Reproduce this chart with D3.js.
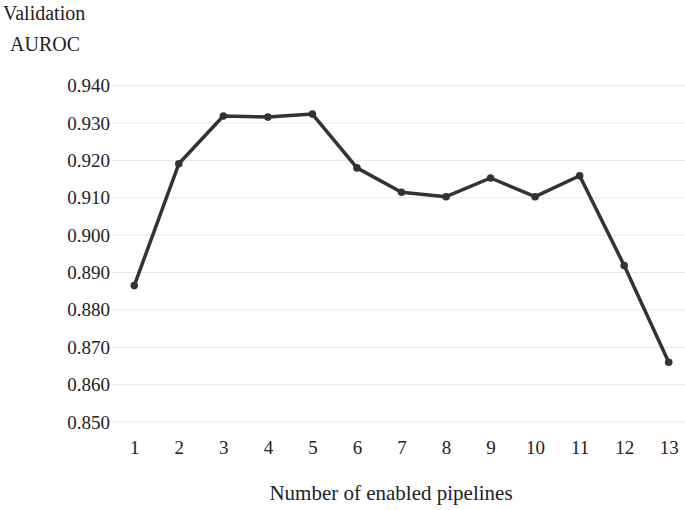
<!DOCTYPE html>
<html lang="en">
<head>
<meta charset="UTF-8">
<script src="https://d3js.org/d3.v7.min.js"></script>
<style>
  body { margin: 0; background: #fff; }
  text { font-family: "Liberation Serif", "Times New Roman", serif; fill: #222; }
</style>
</head>
<body>
<svg id="chart"></svg>
<script>
const pipelines = [1, 2, 3, 4, 5, 6, 7, 8, 9, 10, 11, 12, 13];
const auroc = [0.8865, 0.9191, 0.9319, 0.9316, 0.9324, 0.9180, 0.9115, 0.9103, 0.9153, 0.9103, 0.9159, 0.8919, 0.8660];
const yTicks = [0.85, 0.86, 0.87, 0.88, 0.89, 0.90, 0.91, 0.92, 0.93, 0.94];

const W = 685, H = 510;
const plotLeft = 112, plotRight = 691, plotTop = 85.7, plotBottom = 422;

const svg = d3.select("#chart").attr("width", W).attr("height", H);

const x = d3.scalePoint().domain(pipelines).range([plotLeft, plotRight]).padding(0.5);
const y = d3.scaleLinear().domain([0.85, 0.94]).range([plotBottom, plotTop]);

// gridlines
svg.append("g").selectAll("line").data(yTicks).enter().append("line")
  .attr("x1", plotLeft).attr("x2", W)
  .attr("y1", d => y(d)).attr("y2", d => y(d))
  .attr("stroke", "#e6e6e6").attr("stroke-width", 1);

// y axis labels
const yAxis = svg.append("g").attr("transform", `translate(${plotLeft - 2},0)`)
  .call(d3.axisLeft(y).tickValues(yTicks).tickFormat(d3.format(".3f")).tickSize(0).tickPadding(0));
yAxis.select(".domain").remove();
yAxis.selectAll("text").style("font-size", "19px").style("font-family", "Liberation Serif").attr("fill", "#222");

// x axis labels
const xAxis = svg.append("g").attr("transform", `translate(0,${plotBottom + 18})`)
  .call(d3.axisBottom(x).tickSize(0).tickPadding(0));
xAxis.select(".domain").remove();
xAxis.selectAll("text").style("font-size", "19px").style("font-family", "Liberation Serif").attr("fill", "#222");

// line
const pts = pipelines.map((p, i) => [p, auroc[i]]);
svg.append("path")
  .datum(pts)
  .attr("fill", "none").attr("stroke", "#333").attr("stroke-width", 3.5)
  .attr("stroke-linejoin", "round")
  .attr("d", d3.line().x(d => x(d[0])).y(d => y(d[1])));

svg.append("g").selectAll("circle")
  .data(pts)
  .enter().append("circle")
  .attr("cx", d => x(d[0])).attr("cy", d => y(d[1])).attr("r", 3.8).attr("fill", "#333");

// titles
svg.append("text").attr("x", 3).attr("y", 20).style("font-size", "20px").text("Validation");
svg.append("text").attr("x", 10).attr("y", 51).style("font-size", "20px").text("AUROC");
svg.append("text").attr("x", 391).attr("y", 500).attr("text-anchor", "middle")
  .style("font-size", "21px").text("Number of enabled pipelines");
</script>
</body>
</html>
